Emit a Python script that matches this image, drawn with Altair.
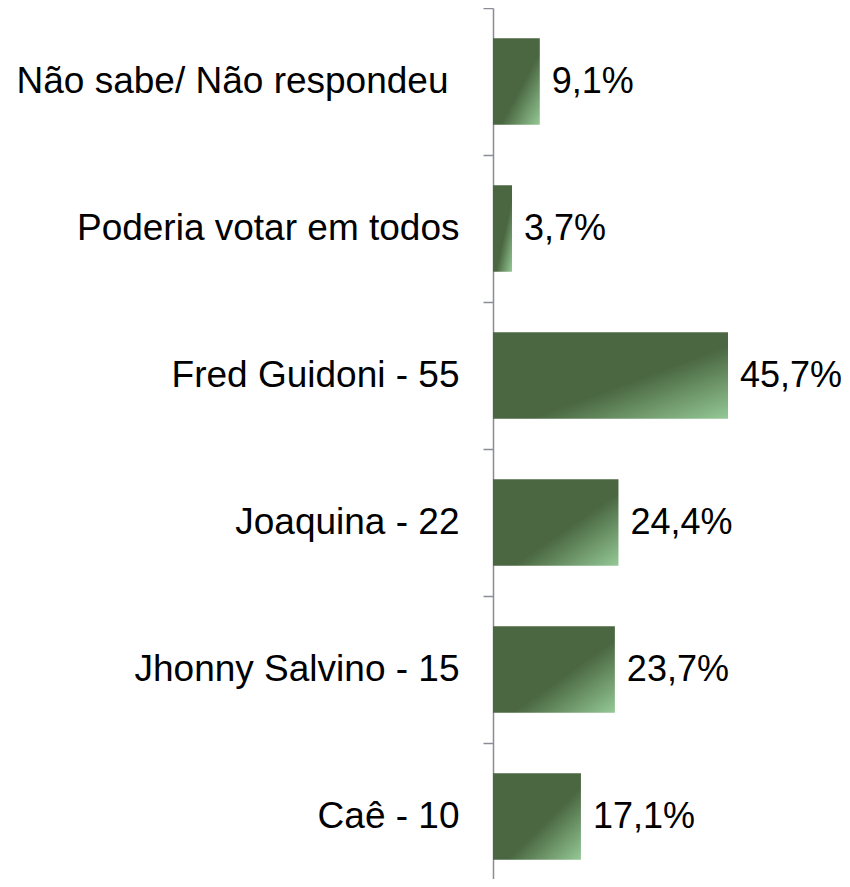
import altair as alt
import pandas as pd

categories = [
    "Não sabe/ Não respondeu",
    "Poderia votar em todos",
    "Fred Guidoni - 55",
    "Joaquina - 22",
    "Jhonny Salvino - 15",
    "Caê - 10",
]
values = [9.1, 3.7, 45.7, 24.4, 23.7, 17.1]
labels = ["9,1%", "3,7%", "45,7%", "24,4%", "23,7%", "17,1%"]

df = pd.DataFrame({"cat": categories, "val": values, "lab": labels})

gradient = {
    "gradient": "linear",
    "x1": 0, "y1": 0, "x2": 1, "y2": 1,
    "stops": [
        {"offset": 0, "color": "#4a6741"},
        {"offset": 0.58, "color": "#4a6741"},
        {"offset": 1, "color": "#95c996"},
    ],
}

y = alt.Y(
    "cat:N",
    sort=categories,
    title=None,
    scale=alt.Scale(paddingInner=0, paddingOuter=0, range=[0, 882]),
    axis=alt.Axis(
        tickBand="extent",
        tickSize=10,
        tickColor="#8a8d96",
        tickWidth=1.5,
        domainColor="#8a8d96",
        domainWidth=1.5,
        labelFont="Liberation Sans",
        labelFontSize=37,
        labelColor="#000000",
        labelPadding={
            "condition": {"test": "datum.value == 'Não sabe/ Não respondeu'", "value": 35},
            "value": 24,
        },
        labelLimit=600,
    ),
)
x = alt.X(
    "val:Q",
    title=None,
    scale=alt.Scale(domain=[0, 67.87], nice=False, zero=True),
    axis=None,
)

bars = alt.Chart(df).mark_bar(color=gradient, height={"band": 0.59}).encode(y=y, x=x)
text = alt.Chart(df).mark_text(
    align="left", baseline="middle", dx=12,
    font="Liberation Sans", fontSize=36, color="#000000"
).encode(y=alt.Y("cat:N", sort=categories), x="val:Q", text="lab:N")

chart = (bars + text).properties(
    width=349,
    height=871,
    autosize=alt.AutoSizeParams(type="none"),
    padding={"left": 485, "top": 0, "right": 0, "bottom": 0},
).configure_view(stroke=None)

chart.save("out.html", embed_options={"renderer": "svg", "actions": False})
